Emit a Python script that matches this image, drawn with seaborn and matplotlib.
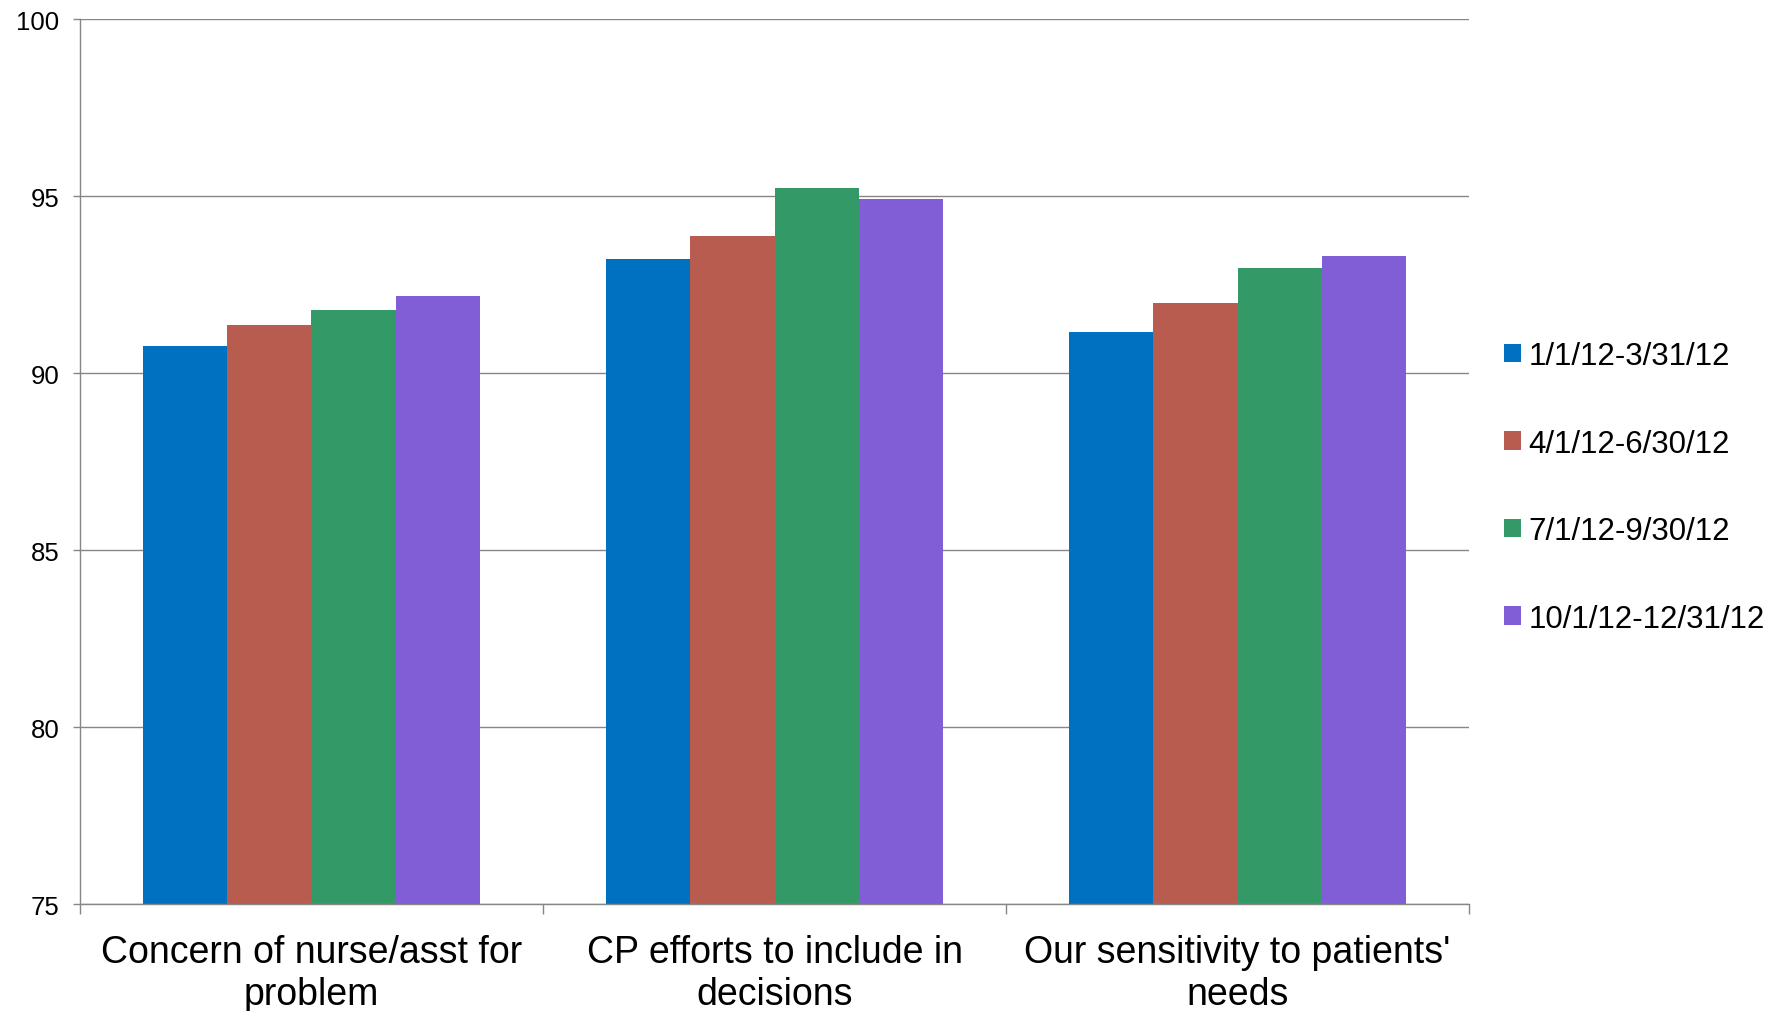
import pandas as pd
import numpy as np
import matplotlib.pyplot as plt
import seaborn as sns

# Chart values
categories = ["Concern of nurse/asst for\nproblem",
              "CP efforts to include in\ndecisions",
              "Our sensitivity to patients'\nneeds"]
periods = ["1/1/12-3/31/12", "4/1/12-6/30/12", "7/1/12-9/30/12", "10/1/12-12/31/12"]
q1 = [90.76, 93.22, 91.16]
q2 = [91.36, 93.88, 91.98]
q3 = [91.79, 95.23, 92.98]
q4 = [92.17, 94.93, 93.32]
colors = ["#0070C0", "#B75C4E", "#339966", "#815ED6"]

# Long format for seaborn
df = pd.DataFrame({
    "category": categories * 4,
    "period": np.repeat(periods, 3),
    "score": q1 + q2 + q3 + q4,
})

sns.set_style("white")
plt.rcParams['font.family'] = ['Liberation Sans', 'DejaVu Sans']
plt.rcParams['text.color'] = 'black'

fig = plt.figure(figsize=(17.85, 10.12), dpi=100)
ax = fig.add_axes([0.0448, 0.1057, 0.7782, 0.8743])

sns.barplot(data=df, x="category", y="score", hue="period", order=categories,
            hue_order=periods, palette=colors, width=0.727, gap=0,
            saturation=1, linewidth=0, ax=ax, legend=True)

ax.set_ylim(75, 100)
ax.set_xlim(-0.5, 2.5)
ax.set_yticks([75, 80, 85, 90, 95, 100])
ax.set_xlabel("")
ax.set_ylabel("")

# grid and spines
ax.yaxis.grid(True, color="#868686", linewidth=1.0)
ax.set_axisbelow(True)
for s in ["top", "right"]:
    ax.spines[s].set_visible(False)
for s in ["left", "bottom"]:
    ax.spines[s].set_color("#868686")
    ax.spines[s].set_linewidth(1.0)

ax.tick_params(axis="y", which="major", length=5, width=1, color="#868686",
               direction="out", left=True, labelsize=18.5, labelcolor="black", pad=10)
ax.tick_params(axis="x", which="major", length=0, labelsize=27, labelcolor="black", pad=21.5)
ax.set_xticks([-0.5, 0.5, 1.5, 2.5], minor=True)
ax.tick_params(axis="x", which="minor", length=7, width=1, color="#868686",
               direction="out", bottom=True)
for lab in ax.get_xticklabels():
    lab.set_linespacing(1.22)

# legend on the right
handles, labels = ax.get_legend_handles_labels()
ax.get_legend().remove()
fig.legend(handles, labels, loc="center left", bbox_to_anchor=(0.8426, 0.5174),
           frameon=False, fontsize=22.5, borderaxespad=0, borderpad=0,
           handlelength=0.54, handleheight=0.54, handletextpad=0.25,
           labelspacing=1.84)

fig.savefig("out.png", dpi=100)
